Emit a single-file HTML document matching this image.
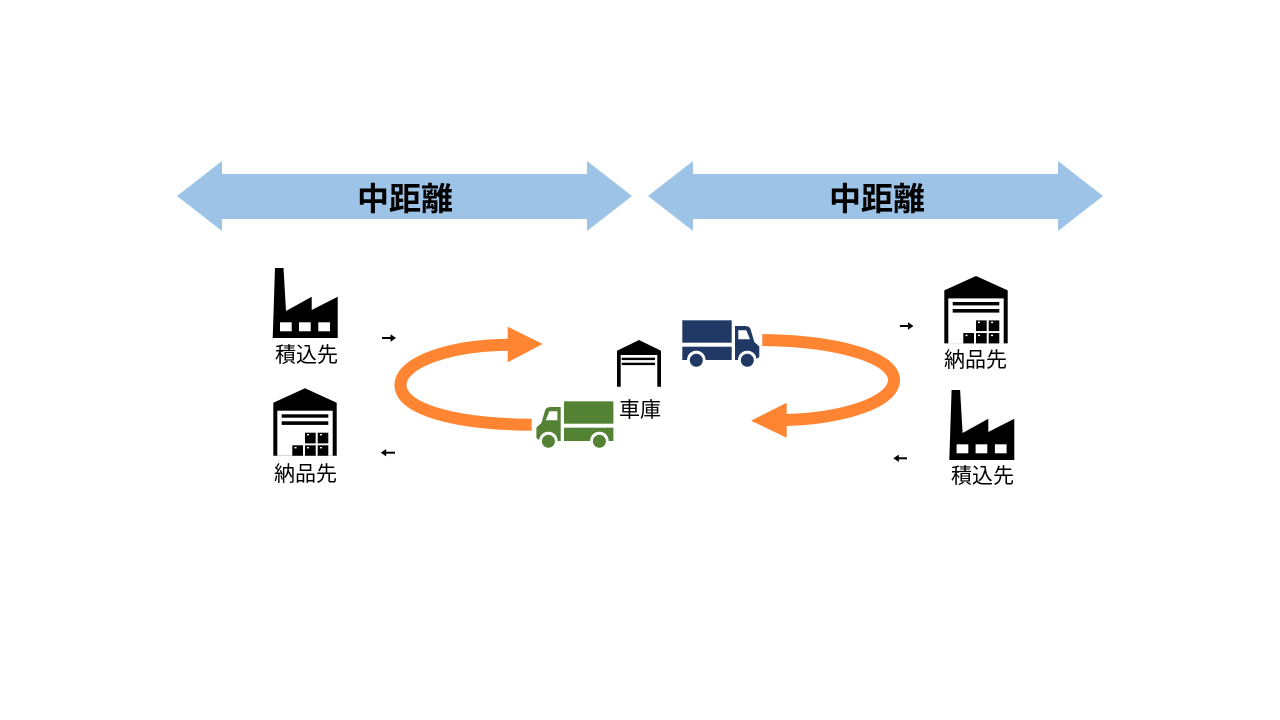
<!DOCTYPE html>
<html lang="ja">
<head>
<meta charset="utf-8">
<style>
html,body{margin:0;padding:0;background:#fff;width:1280px;height:720px;overflow:hidden}
svg{display:block}
text{font-family:"Liberation Sans","Noto Sans CJK JP",sans-serif;fill:#000}
.lbl{font-size:21px}
.big{font-size:32px;font-weight:700}
</style>
</head>
<body>
<svg width="1280" height="720" viewBox="0 0 1280 720" xmlns="http://www.w3.org/2000/svg">
<defs>
<g id="factory">
<path d="M275,268H283.5L286,311L311.7,296.7V310L337.7,296.7V338H272.7Z" fill="#000"/>
<rect x="280" y="322.3" width="11.7" height="9" fill="#fff"/>
<rect x="299" y="322.3" width="11.7" height="9" fill="#fff"/>
<rect x="318.3" y="322.3" width="11.7" height="9" fill="#fff"/>
</g>
<g id="ware">
<path d="M273.3,455.7V402.7L305,388.3L336.7,402.7V455.7Z" fill="#000"/>
<rect x="277.3" y="410.7" width="55.4" height="45" fill="#fff"/>
<rect x="281.7" y="414.3" width="46.6" height="3.4" fill="#000"/>
<rect x="281.7" y="421.3" width="46.6" height="3.6" fill="#000"/>
<rect x="305" y="432.7" width="10.7" height="10.7" fill="#000"/>
<rect x="317.7" y="432.7" width="10.6" height="10.7" fill="#000"/>
<rect x="292.3" y="445.3" width="10.7" height="10.4" fill="#000"/>
<rect x="305" y="445.3" width="10.7" height="10.4" fill="#000"/>
<rect x="317.7" y="445.3" width="10.6" height="10.4" fill="#000"/>
<rect x="307" y="434" width="2" height="1.4" fill="#fff"/>
<rect x="320" y="434" width="2" height="1.4" fill="#fff"/>
<rect x="294.5" y="447" width="2" height="1.4" fill="#fff"/>
<rect x="307" y="447" width="2" height="1.4" fill="#fff"/>
<rect x="320" y="447" width="2" height="1.4" fill="#fff"/>
</g>
<g id="truck">
<rect x="682.3" y="320.3" width="49.4" height="22.4"/>
<rect x="682.3" y="346.7" width="49.4" height="13.3"/>
<path d="M735,326H745Q749.5,326 750.5,329L754.3,342L759.3,346.5V357L755,360H735Z"/>
<path d="M738.3,330.3H746.3L750,339.3H738.3Z" fill="#fff"/>
<circle cx="696.3" cy="360" r="9.3" fill="#fff"/>
<circle cx="747.3" cy="360" r="9.3" fill="#fff"/>
<rect x="682" y="360.2" width="78" height="8" fill="#fff"/>
<circle cx="696.3" cy="360.3" r="6.5"/>
<circle cx="747.3" cy="360.3" r="6.5"/>
</g>
</defs>

<rect width="1280" height="720" fill="#fff"/>

<polygon points="177,196 222,161 222,174 587,174 587,161 632,196 587,231 587,219 222,219 222,231" fill="#9DC3E6"/>
<polygon points="648,196 693,161 693,174 1058,174 1058,161 1103,196 1058,231 1058,219 693,219 693,231" fill="#9DC3E6"/>
<text class="big" x="405" y="210" text-anchor="middle">中距離</text>
<text class="big" x="877" y="210" text-anchor="middle">中距離</text>

<use href="#factory"/>
<use href="#factory" x="676.6" y="122"/>
<use href="#ware"/>
<use href="#ware" x="671" y="-112.3"/>

<path d="M617,386.7V350.7L639,340L661,350.7V386.7Z" fill="#000"/>
<rect x="620.7" y="355" width="36.6" height="32" fill="#fff"/>
<rect x="621.7" y="357.7" width="33.3" height="2.4" fill="#000"/>
<rect x="621.7" y="362.7" width="33.3" height="2.4" fill="#000"/>

<use href="#truck" fill="#1F3864"/>
<use href="#truck" fill="#548235" transform="translate(1295.7,81) scale(-1,1)"/>

<path d="M531.7,424.8C450,424 400.5,408 400.5,385C400.5,362 450,345 510,344.7" fill="none" stroke="#FF8533" stroke-width="12"/>
<polygon points="507.7,326.7 542.7,344 507.7,362.3" fill="#FF8533"/>
<path d="M762.3,340C840,341 894,358 894,380C894,403 840,419 785,420" fill="none" stroke="#FF8533" stroke-width="12"/>
<polygon points="786.7,402.7 751,420.7 786.7,437.7" fill="#FF8533"/>

<g fill="#000" stroke="#000">
<line x1="382" y1="338" x2="392" y2="338" stroke-width="2"/>
<polygon points="390.5,334.3 396,338 390.5,341.7" stroke="none"/>
<line x1="385" y1="452.7" x2="395" y2="452.7" stroke-width="2"/>
<polygon points="386.2,449 380.7,452.7 386.2,456.4" stroke="none"/>
<line x1="900" y1="326" x2="910" y2="326" stroke-width="2"/>
<polygon points="908,322.3 913.5,326 908,329.7" stroke="none"/>
<line x1="897" y1="458.3" x2="907" y2="458.3" stroke-width="2"/>
<polygon points="898.8,454.6 893.3,458.3 898.8,462" stroke="none"/>
</g>

<text class="lbl" x="275" y="362">積込先</text>
<text class="lbl" x="274" y="481">納品先</text>
<text class="lbl" x="944" y="367">納品先</text>
<text class="lbl" x="951" y="483">積込先</text>
<text class="lbl" x="619" y="417">車庫</text>
</svg>
</body>
</html>
